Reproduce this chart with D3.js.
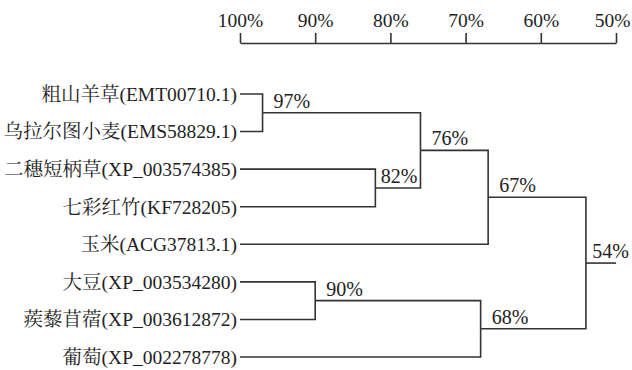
<!DOCTYPE html>
<html>
<head>
<meta charset="utf-8">
<style>
  @font-face { font-family: "LSerif"; src: local("Liberation Serif"), local("LiberationSerif"); }
  @font-face { font-family: "CJKSerif"; src: local("Noto Serif CJK SC"), local("NotoSerifCJKsc-Regular"); }
  body { margin: 0; background: #fff; }
  .preload { position: absolute; left: -9999px; top: 0; opacity: 0; }
</style>
<script src="https://cdn.jsdelivr.net/npm/d3@7"></script>
</head>
<body>
<span class="preload" style="font-family: LSerif, 'Liberation Serif'">A1%</span>
<span class="preload" style="font-family: CJKSerif, 'Noto Serif CJK SC'">粗山</span>
<svg id="chart" width="632" height="370"></svg>
<script>
// leaves, top to bottom
var species = [
  "粗山羊草(EMT00710.1)",
  "乌拉尔图小麦(EMS58829.1)",
  "二穗短柄草(XP_003574385)",
  "七彩红竹(KF728205)",
  "玉米(ACG37813.1)",
  "大豆(XP_003534280)",
  "蒺藜苜蓿(XP_003612872)",
  "葡萄(XP_002278778)"
];
// internal nodes N0..N6: children + similarity (%)
var mergePairs = [["L0","L1"], ["L2","L3"], ["N0","N1"], ["N2","L4"], ["L5","L6"], ["N4","L7"], ["N3","N5"]];
var similarity = [97, 82, 76, 67, 90, 68, 54];
var axisTicks = [100, 90, 80, 70, 60, 50];

var ink = "#333";
var serif = "'Liberation Serif', LSerif, 'Noto Serif CJK SC', CJKSerif, 'Noto Sans CJK SC', serif";

function draw() {
  var svg = d3.select("#chart");
  svg.selectAll("*").remove();

  var x = d3.scaleLinear().domain([100, 50]).range([240, 616]);
  var y = d3.scalePoint().domain(species).range([94, 357]);

  // axis on top
  var axis = d3.axisTop(x)
      .tickValues(axisTicks)
      .tickSize(10)
      .tickSizeOuter(0)
      .tickPadding(6)
      .tickFormat(d => d + "%");

  var gAxis = svg.append("g").attr("transform", "translate(0,43)").call(axis)
      .attr("font-family", serif);
  gAxis.selectAll("path, line").attr("stroke", ink).attr("stroke-width", 1.6);
  gAxis.selectAll("text").attr("font-size", 19.5).attr("fill", "#222")
      .attr("font-family", serif)
      .each(function(d) {
        // keep the last label inside the window
        var w = this.getComputedTextLength();
        var over = x(d) + w / 2 - 630;
        if (over > 0) d3.select(this).attr("dx", -over);
      });

  // node positions
  var pos = {};
  species.forEach(function(s, i) { pos["L" + i] = {x: x(100), y: y(s)}; });
  mergePairs.forEach(function(p, i) {
    var a = pos[p[0]], b = pos[p[1]];
    pos["N" + i] = {x: x(similarity[i]), y: (a.y + b.y) / 2, parent: null};
    a.parent = "N" + i; b.parent = "N" + i;
  });
  var root = "N" + (mergePairs.length - 1);

  // leaf labels, shrunk if they would run off the left edge
  svg.append("g").selectAll("text").data(species).join("text")
      .attr("x", x(100) - 3)
      .attr("y", d => y(d))
      .attr("dy", "0.35em")
      .attr("text-anchor", "end")
      .attr("font-size", 19.5)
      .attr("fill", "#222")
      .attr("font-family", serif)
      .text(d => d)
      .each(function() {
        var w = this.getComputedTextLength();
        var room = x(100) - 3 - 2;
        if (w > room) d3.select(this).attr("font-size", 19.5 * room / w);
      });

  // branches
  var links = svg.append("g").attr("fill", "none").attr("stroke", ink).attr("stroke-width", 1.6);
  mergePairs.forEach(function(p, i) {
    var n = pos["N" + i];
    p.forEach(function(c) {
      var cp = pos[c];
      links.append("path").attr("d", "M" + cp.x + "," + cp.y + "H" + n.x + "V" + n.y);
    });
  });
  // root tail to 50%
  links.append("path").attr("d", "M" + pos[root].x + "," + pos[root].y + "H" + x(50));

  // node labels above the outgoing branch
  var labels = svg.append("g");
  mergePairs.forEach(function(p, i) {
    var n = pos["N" + i];
    var endX = n.parent ? pos[n.parent].x : 632;
    var t = labels.append("text")
        .attr("y", n.y - 5)
        .attr("font-size", 20)
        .attr("fill", "#222")
        .attr("font-family", serif)
        .text(similarity[i] + "%");
    var w = t.node().getComputedTextLength();
    t.attr("x", Math.min(n.x + 11, endX - 3 - w));
  });
}

draw();
if (document.fonts && document.fonts.ready) document.fonts.ready.then(draw);
</script>
</body>
</html>
